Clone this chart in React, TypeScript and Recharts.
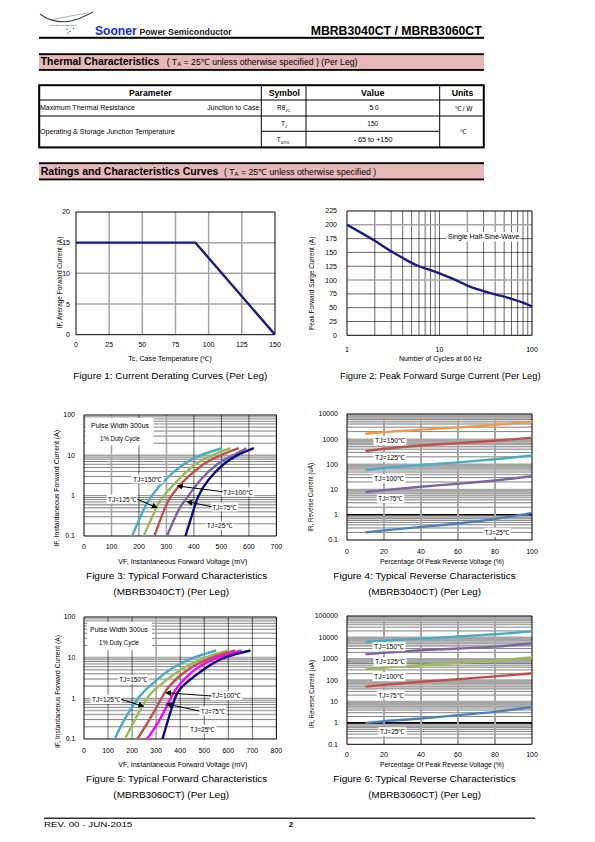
import React from 'react';
import { LineChart, Line, XAxis, YAxis, ReferenceLine } from 'recharts';

const FONT = "'Liberation Sans', Arial, Helvetica, sans-serif";

// ---------- Figure 1 : current derating ----------
const fig1Temp = [0, 90, 150];
const fig1Current = [15, 15, 0];
const fig1XTicks = [0, 25, 50, 75, 100, 125, 150];
const fig1YTicks = [0, 5, 10, 15, 20];

// ---------- Figure 2 : peak forward surge ----------
const fig2Cycles = [1, 2, 3, 4, 5, 6, 8, 10, 15, 20, 30, 40, 50, 60, 80, 100];
const fig2Current = [200, 171, 152, 140, 131, 125, 118, 112, 100, 90, 80, 74, 70, 66, 59, 52];
const fig2XTicks = [1, 10, 100];
const fig2YTicks = [0, 25, 50, 75, 100, 125, 150, 175, 200, 225];

// ---------- Figure 3 : forward characteristics MBRB3040CT ----------
const fig3Current = [0.1, 0.45, 1, 2.5, 6, 10, 15];
const fig3V150 = [175, 217, 247, 296, 363, 423, 502];
const fig3V125 = [217, 260, 290, 344, 405, 466, 533];
const fig3V100 = [256, 292, 318, 368, 435, 496, 563];
const fig3V75 = [302, 345, 380, 425, 485, 542, 591];
const fig3V25 = [369, 399, 417, 454, 508, 557, 618];
const fig3XTicks = [0, 100, 200, 300, 400, 500, 600, 700];
const fwdYTicks = [0.1, 1, 10, 100];

// ---------- Figure 4 : reverse characteristics MBRB3040CT ----------
const revPercent = [10, 20, 40, 60, 80, 100];
const fig4I150 = [1650, 1900, 2400, 2950, 3700, 5000];
const fig4I125 = [340, 420, 560, 700, 870, 1150];
const fig4I100 = [60, 72, 95, 120, 160, 225];
const fig4I75 = [8, 9.5, 13, 17, 23, 34];
const fig4I25 = [0.2, 0.24, 0.33, 0.45, 0.68, 1.2];
const revXTicks = [0, 20, 40, 60, 80, 100];
const fig4YTicks = [0.1, 1, 10, 100, 1000, 10000];

// ---------- Figure 5 : forward characteristics MBRB3060CT ----------
const fig5Current = [0.1, 0.3, 1, 2, 5, 10, 15];
const fig5V150 = [128, 168, 225, 273, 356, 456, 550];
const fig5V125 = [170, 212, 262, 311, 401, 505, 600];
const fig5V100 = [222, 272, 322, 355, 430, 532, 628];
const fig5V75 = [262, 315, 360, 392, 460, 555, 655];
const fig5V25 = [326, 350, 378, 410, 495, 585, 692];
const fig5XTicks = [0, 100, 200, 300, 400, 500, 600, 700, 800];

// ---------- Figure 6 : reverse characteristics MBRB3060CT ----------
const fig6I150 = [6000, 7000, 8700, 11000, 14000, 19000];
const fig6I125 = [1600, 1900, 2500, 3000, 3700, 5200];
const fig6I100 = [320, 380, 500, 650, 840, 1150];
const fig6I75 = [50, 60, 84, 110, 150, 210];
const fig6I25 = [1.0, 1.2, 1.6, 2.3, 3.3, 5.6];
const fig6YTicks = [0.1, 1, 10, 100, 1000, 10000, 100000];

// ---------- gridline value lists ----------
function logMinor(lo: number, hi: number): number[] {
  const out: number[] = [];
  for (let d = lo; d < hi * 0.999; d *= 10) {
    for (let m = 1; m <= 9; m++) out.push(+(m * d).toPrecision(3));
  }
  return out;
}
const fig3GrayH = [0.4, 0.5, 0.6, 8, 9, 10];
const fig5GrayH = [0.4, 0.5, 2, 3, 9, 10];
const fig4GrayH = [0.8, 0.9, 4, 5, 7, 8, 9, 10, 40, 50, 70, 80, 90, 100, 400, 500, 700, 800, 900, 1000, 4000, 5000, 7000, 8000, 9000];
const fig6GrayH = [0.8, 0.9, 4, 5, 7, 8, 9, 10, 40, 50, 70, 80, 90, 100, 400, 500, 700, 800, 900, 1000, 4000, 5000, 7000, 8000, 9000, 10000, 40000, 50000, 70000, 80000, 90000];
const fig2GrayV = [9, 20, 40];
const fig2BlackV = [2, 3, 4, 5, 6, 7, 8, 10, 30, 50, 60, 70, 80, 90];
const fig2GrayH = [100, 200];
const fig2BlackH = [25, 50, 75, 125, 150, 175];

const zip = (xs: number[], ys: number[]) => xs.map((x, i) => ({ x, y: ys[i] }));
const zipRev = (ys: number[], xs: number[]) => ys.map((y, i) => ({ x: xs[i], y }));

const PL = 60, PT = 10, PR = 10, PB = 30;
type Box = { x0: number; y0: number; x1: number; y1: number };
const TICK = { fontSize: 7, fill: '#000', fontFamily: FONT };
const GRAY = '#a6a6a6';

function Frame({ b, children }: { b: Box; children: React.ReactNode }) {
  return (
    <div style={{ position: 'absolute', left: b.x0 - PL, top: b.y0 - PT }}>
      <LineChart
        width={b.x1 - b.x0 + PL + PR}
        height={b.y1 - b.y0 + PT + PB}
        margin={{ top: PT, right: PR, left: 0, bottom: 0 }}
      >
        {children}
      </LineChart>
    </div>
  );
}

function xAx(domain: number[], ticks: number[], margin: number, scale: any = 'linear') {
  return (
    <XAxis key="xa" type="number" dataKey="x" domain={domain} ticks={ticks} scale={scale} allowDataOverflow
      height={PB} tickLine={false} axisLine={false} tickSize={0} tickMargin={margin} interval={0} tick={TICK} />
  );
}
function yAx(domain: number[], ticks: number[], margin: number, scale: any = 'linear') {
  return (
    <YAxis key="ya" type="number" domain={domain} ticks={ticks} scale={scale} allowDataOverflow
      width={PL} tickLine={false} axisLine={false} tickSize={0} tickMargin={margin} interval={0} tick={TICK} />
  );
}
function vLines(vals: number[], stroke: string, w: number, tag: string) {
  return vals.map((v) => (
    <ReferenceLine key={tag + 'v' + v} x={v} stroke={stroke} strokeWidth={w} ifOverflow="hidden" zIndex={-50} />
  ));
}
function hLines(vals: number[], stroke: string, w: number, tag: string) {
  return vals.map((v) => (
    <ReferenceLine key={tag + 'h' + v} y={v} stroke={stroke} strokeWidth={w} ifOverflow="hidden" zIndex={-50} />
  ));
}
function border(xd: number[], yd: number[]) {
  return [
    <ReferenceLine key="bl" x={xd[0]} stroke="#000" strokeWidth={1} />,
    <ReferenceLine key="br" x={xd[1]} stroke="#000" strokeWidth={1} />,
    <ReferenceLine key="bb" y={yd[0]} stroke="#000" strokeWidth={1} />,
    <ReferenceLine key="bt" y={yd[1]} stroke="#000" strokeWidth={1} />,
  ];
}
function curve(key: string, data: any[], color: string, w = 2.4, type: any = 'monotone') {
  return (
    <Line key={key} data={data} dataKey="y" type={type} stroke={color} strokeWidth={w}
      dot={false} activeDot={false} isAnimationActive={false} />
  );
}

const B1: Box = { x0: 75.7, y0: 212.3, x1: 274.7, y1: 335 };
const B2: Box = { x0: 347.3, y0: 210.7, x1: 532.3, y1: 335 };
const B3: Box = { x0: 84.3, y0: 415, x1: 276.7, y1: 536 };
const B4: Box = { x0: 347.3, y0: 414, x1: 532.3, y1: 540 };
const B5: Box = { x0: 84.3, y0: 617.3, x1: 276.7, y1: 739.3 };
const B6: Box = { x0: 347.3, y0: 615.7, x1: 532.3, y1: 744 };

function T(p: { x: number; y: number; s: number; len?: number; b?: boolean; a?: string; fill?: string; children: React.ReactNode; rot?: boolean }) {
  return (
    <text x={p.x} y={p.y} fontSize={p.s} fontWeight={p.b ? 'bold' : 'normal'} textAnchor={(p.a as any) || 'start'}
      fill={p.fill || '#000'} fontFamily={FONT} textLength={p.len} lengthAdjust={p.len ? 'spacingAndGlyphs' : undefined}
      transform={p.rot ? `rotate(-90 ${p.x} ${p.y})` : undefined}>
      {p.children}
    </text>
  );
}

function Tag({ cx, cy, w, text }: { cx: number; cy: number; w: number; text: string }) {
  return (
    <g>
      <rect x={cx - w / 2 - 1.5} y={cy - 4.5} width={w + 3} height={9} fill="#fff" />
      <T x={cx} y={cy + 2.5} s={7} a="middle" len={w}>{text}</T>
    </g>
  );
}
function Arrow({ x1, y1, x2, y2 }: { x1: number; y1: number; x2: number; y2: number }) {
  return <line x1={x1} y1={y1} x2={x2} y2={y2} stroke="#000" strokeWidth={1} markerEnd="url(#ah)" />;
}

function PageText() {
  return (
    <svg width={595} height={842} style={{ position: 'absolute', left: 0, top: 0 }}>
      {/* logo */}
      <path d="M40,14 C50,22 64,24 78,19 C84,17 89,14 93,12" stroke="#444" strokeWidth={1.1} fill="none" />
      <path d="M50,20 C62,18 74,15 88,13" stroke="#777" strokeWidth={0.6} fill="none" />
      <text x={50} y={25.5} fontSize={2.4} fontFamily={FONT} fill="#333">SOONER POWER SEMI</text>
      <circle cx={67} cy={29} r={0.8} fill="#3b7fd6" />
      <circle cx={70} cy={31.5} r={0.8} fill="#3b7fd6" />
      <circle cx={73.5} cy={28.5} r={0.8} fill="#3b7fd6" />
      <circle cx={68} cy={33} r={0.8} fill="#3b7fd6" />
      <T x={95} y={35.3} s={12.1} b len={41.7} fill="#1028f0">Sooner</T>
      <T x={139.4} y={35.3} s={8.7} b len={92.4} fill="#222">Power Semiconductor</T>
      <T x={481.7} y={35.3} s={12.2} b a="end" len={171}>MBRB3040CT / MBRB3060CT</T>
      <rect x={39} y={36.8} width={445} height={2} fill="#000" />

      {/* Thermal band */}
      <rect x={39} y={53.3} width={445} height={17.5} fill="#e6b9b8" />
      <rect x={39} y={53.3} width={445} height={1.8} fill="#000" />
      <rect x={39} y={69} width={445} height={1.8} fill="#000" />
      <T x={40.7} y={65} s={10.4} b len={118.6}>Thermal Characteristics</T>
      <text x={166.7} y={64.6} fontSize={8.7} fontFamily={FONT}>
        ( T<tspan fontSize={6} dy={1.8}>A</tspan><tspan dy={-1.8}> = 25℃ unless otherwise specified ) (Per Leg)</tspan>
      </text>

      {/* Table */}
      <rect x={39.2} y={85.2} width={444.6} height={62.2} fill="none" stroke="#000" strokeWidth={2} />
      <line x1={39} y1={100} x2={484} y2={100} stroke="#000" strokeWidth={1} />
      <line x1={39} y1={116} x2={484} y2={116} stroke="#000" strokeWidth={1} />
      <line x1={261.3} y1={131.3} x2={439.7} y2={131.3} stroke="#000" strokeWidth={1} />
      <line x1={261.3} y1={85} x2={261.3} y2={147.5} stroke="#000" strokeWidth={1} />
      <line x1={306} y1={85} x2={306} y2={147.5} stroke="#000" strokeWidth={1} />
      <line x1={439.7} y1={85} x2={439.7} y2={147.5} stroke="#000" strokeWidth={1} />
      <T x={150.3} y={96.4} s={8.3} b a="middle" len={42.7}>Parameter</T>
      <T x={284.3} y={96.4} s={8.3} b a="middle" len={31.3}>Symbol</T>
      <T x={372.7} y={96.4} s={8.3} b a="middle" len={23.3}>Value</T>
      <T x={462.5} y={96.4} s={8.3} b a="middle" len={21.7}>Units</T>
      <T x={40} y={110} s={6.5} len={95}>Maximum Thermal Resistance</T>
      <T x={259.3} y={110} s={6.5} a="end" len={52}>Junction to Case</T>
      <text x={277} y={110} fontSize={6.5} fontFamily={FONT}>Rθ<tspan fontSize={4.2} dy={1.8}>JC</tspan></text>
      <T x={374} y={110} s={6.5} a="middle">5.0</T>
      <T x={463.7} y={110.5} s={6.5} a="middle">℃ / W</T>
      <T x={40} y={133.5} s={6.5} len={134.7}>Operating &amp; Storage Junction Temperature</T>
      <text x={281} y={126} fontSize={6.5} fontFamily={FONT}>T<tspan fontSize={4.2} dy={1.8}>J</tspan></text>
      <T x={372.7} y={126} s={6.5} a="middle">150</T>
      <text x={276.7} y={141.7} fontSize={6.5} fontFamily={FONT}>T<tspan fontSize={4.2} dy={1.8}>STG</tspan></text>
      <T x={373} y={141.7} s={6.5} a="middle" len={39}>- 65  to +150</T>
      <T x={462.7} y={134} s={6.5} a="middle">℃</T>

      {/* Ratings band */}
      <rect x={39} y={162.3} width={445} height={18} fill="#e6b9b8" />
      <rect x={39} y={162.3} width={445} height={1.8} fill="#000" />
      <rect x={39} y={178.5} width={445} height={1.8} fill="#000" />
      <T x={40.7} y={175} s={10.5} b len={177.7}>Ratings and Characteristics Curves</T>
      <text x={224} y={174.6} fontSize={8.7} fontFamily={FONT}>
        ( T<tspan fontSize={6} dy={1.8}>A</tspan><tspan dy={-1.8}> = 25℃ unless otherwise specified )</tspan>
      </text>

      {/* Axis titles */}
      <T x={170} y={360.5} s={6.3} a="middle" len={83.4}>Tc, Case Temperature (℃)</T>
      <T x={61.5} y={282.5} s={6.3} a="middle" rot len={91.6}>IF, Average Forward Current (A)</T>
      <T x={440.3} y={360.7} s={6.3} a="middle" len={82.7}>Number of Cycles at 60 Hz</T>
      <T x={314.5} y={283.3} s={6.3} a="middle" rot len={93.3}>Peak Forward Surge Current (A)</T>
      <T x={182.8} y={564} s={6.3} a="middle" len={129}>VF, Instantaneous Forward  Voltage (mV)</T>
      <T x={59} y={488.3} s={6.3} a="middle" rot len={116.7}>IF, Instantaneous Forward Current (A)</T>
      <T x={442} y={564} s={6.3} a="middle" len={124}>Percentage Of Peak Reverse Voltage (%)</T>
      <T x={313.5} y={497.3} s={6.3} a="middle" rot len={68.7}>IR, Reverse Current (uA)</T>
      <T x={182.8} y={767.3} s={6.3} a="middle" len={129}>VF, Instantaneous Forward  Voltage (mV)</T>
      <T x={60} y={691.5} s={6.3} a="middle" rot len={113}>IF, Instantaneous Forward Current (A)</T>
      <T x={442} y={767.3} s={6.3} a="middle" len={124}>Percentage Of Peak Reverse Voltage (%)</T>
      <T x={313.5} y={694} s={6.3} a="middle" rot len={68}>IR, Reverse Current (uA)</T>

      {/* Captions */}
      <T x={170.3} y={378.5} s={9.7} a="middle" len={194}>Figure 1: Current Derating Curves (Per Leg)</T>
      <T x={440.3} y={378.5} s={9.7} a="middle" len={200.7}>Figure 2: Peak Forward Surge Current (Per Leg)</T>
      <T x={176.7} y={578.6} s={9.7} a="middle" len={181.3}>Figure 3: Typical Forward Characteristics</T>
      <T x={171.2} y={594.5} s={9.7} a="middle" len={115.7}>(MBRB3040CT) (Per Leg)</T>
      <T x={424.5} y={578.6} s={9.7} a="middle" len={182.4}>Figure 4: Typical Reverse Characteristics</T>
      <T x={424.7} y={594.5} s={9.7} a="middle" len={112.7}>(MBRB3040CT) (Per Leg)</T>
      <T x={176.7} y={782} s={9.7} a="middle" len={181.3}>Figure 5: Typical Forward Characteristics</T>
      <T x={171.2} y={797.5} s={9.7} a="middle" len={115.7}>(MBRB3060CT) (Per Leg)</T>
      <T x={424.5} y={782} s={9.7} a="middle" len={182.4}>Figure 6: Typical Reverse Characteristics</T>
      <T x={424.7} y={797.5} s={9.7} a="middle" len={112.7}>(MBRB3060CT) (Per Leg)</T>

      {/* Footer */}
      <rect x={44} y={817.6} width={491} height={1.2} fill="#000" />
      <T x={44} y={826.5} s={8} len={88.3}>REV. 00 - JUN-2015</T>
      <T x={288.7} y={826.5} s={8} b>2</T>
    </svg>
  );
}

function Overlay() {
  return (
    <svg width={595} height={842} style={{ position: 'absolute', left: 0, top: 0, pointerEvents: 'none' }}>
      <defs>
        <marker id="ah" markerWidth={6} markerHeight={6} refX={5} refY={3} orient="auto" markerUnits="userSpaceOnUse">
          <path d="M0,0 L6,3 L0,6 z" fill="#000" />
        </marker>
      </defs>
      {/* Fig 2 */}
      <rect x={446.5} y={232} width={74} height={9.5} fill="#fff" />
      <T x={447.7} y={239.3} s={7} len={71.6}>Single Half-Sine-Wave</T>
      {/* Fig 3 */}
      <rect x={85.5} y={418} width={68} height={27.5} fill="#fff" />
      <T x={120} y={427.5} s={7} a="middle" len={58}>Pulse Width 300us</T>
      <T x={120} y={441} s={7} a="middle" len={40}>1% Duty Cycle</T>
      <Tag cx={147.5} cy={479} w={29} text="TJ=150℃" />
      <Tag cx={122} cy={499} w={28} text="TJ=125℃" />
      <Tag cx={238} cy={492} w={30} text="TJ=100℃" />
      <Tag cx={224.5} cy={507} w={24.5} text="TJ=75℃" />
      <Tag cx={219.5} cy={525.7} w={25.5} text="TJ=25℃" />
      <Arrow x1={137} y1={499} x2={156.7} y2={507.6} />
      <Arrow x1={222.7} y1={491.7} x2={177.7} y2={486} />
      <Arrow x1={211.7} y1={506.7} x2={187.3} y2={501.7} />
      {/* Fig 4 */}
      <Tag cx={390} cy={440.7} w={30} text="TJ=150℃" />
      <Tag cx={390} cy={457.3} w={30} text="TJ=125℃" />
      <Tag cx={389} cy={478.7} w={30} text="TJ=100℃" />
      <Tag cx={390.5} cy={498.7} w={24.3} text="TJ=75℃" />
      <Tag cx={497} cy={532.3} w={24.3} text="TJ=25℃" />
      {/* Fig 5 */}
      <rect x={87} y={621.7} width={65} height={28.3} fill="#fff" />
      <T x={119} y={631.8} s={7} a="middle" len={58}>Pulse Width 300us</T>
      <T x={119} y={645.2} s={7} a="middle" len={40}>1% Duty Cycle</T>
      <Tag cx={133.3} cy={679.3} w={28} text="TJ=150℃" />
      <Tag cx={106.2} cy={699.3} w={28.3} text="TJ=125℃" />
      <Tag cx={226.2} cy={695.7} w={29} text="TJ=100℃" />
      <Tag cx={213} cy={711} w={24} text="TJ=75℃" />
      <Tag cx={202.5} cy={729.3} w={25} text="TJ=25℃" />
      <Arrow x1={121} y1={699.3} x2={143.3} y2={706.2} />
      <Arrow x1={211.7} y1={696} x2={166} y2={692.7} />
      <Arrow x1={199.3} y1={711} x2={166.7} y2={704} />
      {/* Fig 6 */}
      <Tag cx={389} cy={646.7} w={30} text="TJ=150℃" />
      <Tag cx={390} cy={661.7} w={30} text="TJ=125℃" />
      <Tag cx={389} cy={676.7} w={30} text="TJ=100℃" />
      <Tag cx={390.8} cy={695} w={25} text="TJ=75℃" />
      <Tag cx={392.5} cy={731.7} w={25} text="TJ=25℃" />
    </svg>
  );
}

export default function App() {
  const fwdMinor = logMinor(0.1, 100).filter((v) => v > 0.1 && v < 100);
  const rev4Minor = logMinor(0.1, 10000).filter((v) => v > 0.1 && v < 10000);
  const rev6Minor = logMinor(0.1, 100000).filter((v) => v > 0.1 && v < 100000);

  return (
    <div style={{ position: 'absolute', left: 0, top: 0, width: 595, height: 842, background: '#fff', overflow: 'hidden', fontFamily: FONT }}>
      <PageText />

      {/* Figure 1 */}
      <Frame b={B1}>
        {xAx([0, 150], fig1XTicks, 7)}
        {yAx([0, 20], fig1YTicks, 6)}
        {vLines([25, 50, 75, 100, 125], GRAY, 1.5, 'g')}
        {hLines([5, 10, 15], GRAY, 1.5, 'g')}
        {border([0, 150], [0, 20])}
        {curve('f1', zip(fig1Temp, fig1Current), '#1a1a8c', 2.4, 'linear')}
      </Frame>

      {/* Figure 2 */}
      <Frame b={B2}>
        {xAx([1, 100], fig2XTicks, 11.5, 'log')}
        {yAx([0, 225], fig2YTicks, 10)}
        {vLines(fig2BlackV, '#000', 0.6, 'k')}
        {vLines(fig2GrayV, GRAY, 1.6, 'g')}
        {hLines(fig2BlackH, '#000', 0.6, 'k')}
        {hLines(fig2GrayH, GRAY, 1.6, 'g')}
        {border([1, 100], [0, 225])}
        {curve('f2', zip(fig2Cycles, fig2Current), '#1a1a8c', 2.4)}
      </Frame>

      {/* Figure 3 */}
      <Frame b={B3}>
        {xAx([0, 700], fig3XTicks, 8.5)}
        {yAx([0.1, 100], fwdYTicks, 9, 'log')}
        {hLines(fwdMinor.filter((v) => !fig3GrayH.includes(v)), '#000', 0.5, 'k')}
        {hLines(fig3GrayH, GRAY, 1.6, 'g')}
        {vLines([200, 400, 500, 600], '#000', 0.6, 'k')}
        {vLines([100, 300], GRAY, 1.6, 'g')}
        {border([0, 700], [0.1, 100])}
        {curve('c150', zipRev(fig3Current, fig3V150), '#4bacc6', 2.4, 'natural')}
        {curve('c125', zipRev(fig3Current, fig3V125), '#9bbb59', 2.4, 'natural')}
        {curve('c100', zipRev(fig3Current, fig3V100), '#c0504d', 2.4, 'natural')}
        {curve('c75', zipRev(fig3Current, fig3V75), '#8064a2', 2.4, 'natural')}
        {curve('c25', zipRev(fig3Current, fig3V25), '#0a0a8a', 2.4, 'natural')}
      </Frame>

      {/* Figure 4 */}
      <Frame b={B4}>
        {xAx([0, 100], revXTicks, 9.5)}
        {yAx([0.1, 10000], fig4YTicks, 9, 'log')}
        {hLines(rev4Minor.filter((v) => !fig4GrayH.includes(v) && v !== 1), '#000', 0.5, 'k')}
        {hLines(fig4GrayH, GRAY, 1.6, 'g')}
        {hLines([1], '#000', 1.6, 'b')}
        {vLines([20, 40, 60, 80], GRAY, 2, 'g')}
        {border([0, 100], [0.1, 10000])}
        {curve('r150', zip(revPercent, fig4I150), '#f79646')}
        {curve('r125', zip(revPercent, fig4I125), '#c0504d')}
        {curve('r100', zip(revPercent, fig4I100), '#4bacc6')}
        {curve('r75', zip(revPercent, fig4I75), '#8064a2')}
        {curve('r25', zip(revPercent, fig4I25), '#4f81bd')}
      </Frame>

      {/* Figure 5 */}
      <Frame b={B5}>
        {xAx([0, 800], fig5XTicks, 9)}
        {yAx([0.1, 100], fwdYTicks, 8.6, 'log')}
        {hLines(fwdMinor.filter((v) => !fig5GrayH.includes(v)), '#000', 0.5, 'k')}
        {hLines(fig5GrayH, GRAY, 1.6, 'g')}
        {vLines([100, 200, 400, 500, 600, 700], '#000', 0.6, 'k')}
        {vLines([300], GRAY, 1.6, 'g')}
        {border([0, 800], [0.1, 100])}
        {curve('d150', zipRev(fig5Current, fig5V150), '#4bacc6', 2.4, 'natural')}
        {curve('d125', zipRev(fig5Current, fig5V125), '#9bbb59', 2.4, 'natural')}
        {curve('d100', zipRev(fig5Current, fig5V100), '#c0504d', 2.4, 'natural')}
        {curve('d75', zipRev(fig5Current, fig5V75), '#ff00ff', 2.4, 'natural')}
        {curve('d25', zipRev(fig5Current, fig5V25), '#0a0a8a', 2.4, 'natural')}
      </Frame>

      {/* Figure 6 */}
      <Frame b={B6}>
        {xAx([0, 100], revXTicks, 8)}
        {yAx([0.1, 100000], fig6YTicks, 9, 'log')}
        {hLines(rev6Minor.filter((v) => !fig6GrayH.includes(v) && v !== 1), '#000', 0.5, 'k')}
        {hLines(fig6GrayH, GRAY, 1.6, 'g')}
        {hLines([1], '#000', 1.6, 'b')}
        {vLines([20, 40, 60, 80], GRAY, 2, 'g')}
        {border([0, 100], [0.1, 100000])}
        {curve('s150', zip(revPercent, fig6I150), '#4bacc6')}
        {curve('s125', zip(revPercent, fig6I125), '#8064a2')}
        {curve('s100', zip(revPercent, fig6I100), '#9bbb59')}
        {curve('s75', zip(revPercent, fig6I75), '#c0504d')}
        {curve('s25', zip(revPercent, fig6I25), '#4f81bd')}
      </Frame>

      <Overlay />
    </div>
  );
}
